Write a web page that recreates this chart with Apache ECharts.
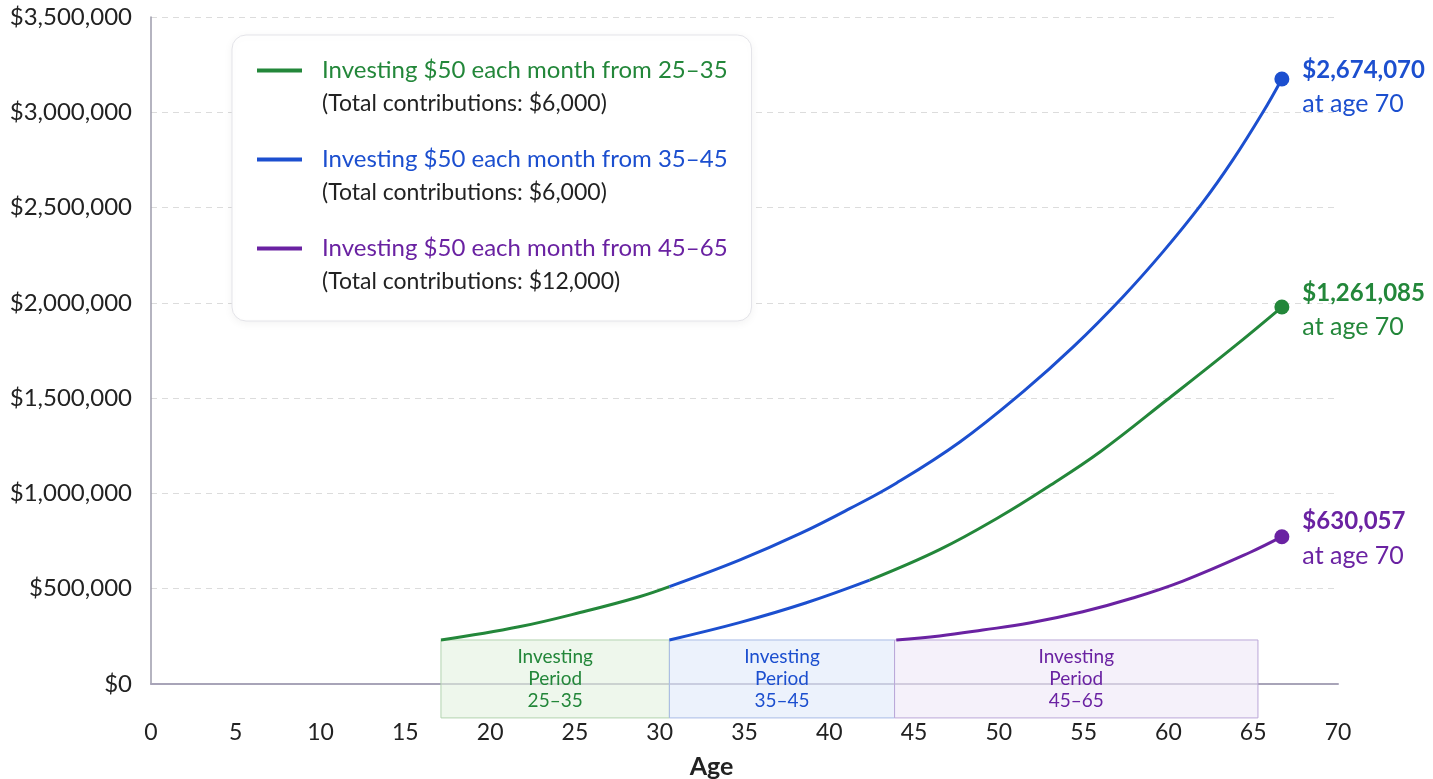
<!DOCTYPE html>
<html>
<head>
<meta charset="utf-8">
<script src="https://cdn.jsdelivr.net/npm/echarts@6/dist/echarts.min.js"></script>
<style>
  html, body { margin: 0; padding: 0; background: #fff; }
  #chart { width: 1433px; height: 779px; }
</style>
</head>
<body>
<div id="chart"></div>
<script>
const GREEN = '#23873a';
const BLUE = '#1c4fcf';
const PURPLE = '#6a22a2';
const FONT = 'Lato, "Noto Sans", sans-serif';

const seriesNames = [
  'Investing $50 each month from 25–35',
  'Investing $50 each month from 35–45',
  'Investing $50 each month from 45–65'
];
const contributionNotes = [
  '(Total contributions: $6,000)',
  '(Total contributions: $6,000)',
  '(Total contributions: $12,000)'
];
const endValueLabels = ['$1,261,085', '$2,674,070', '$630,057'];
const endAgeLabel = 'at age 70';

// upper curve: green until the switch age, blue after
const upperCurveAges = [17.1, 21.7, 25.66, 28.8, 30.57, 34.7, 38.3, 41.2, 43.97, 47.7, 51.47, 54.4, 57.31, 59.7, 61.96, 63.8, 65.57, 66.69];
const upperCurveValues = [231000, 300000, 383000, 458000, 511000, 650000, 790000, 920000, 1055000, 1270000, 1537000, 1770000, 2031000, 2270000, 2519000, 2750000, 3000000, 3175000];
const upperSwitchAge = 30.57;

// middle curve: blue until the switch age, green after
const middleCurveAges = [30.57, 34.7, 38.6, 42.38, 46.5, 50.1, 52.9, 56.0, 59.9, 63.8, 66.69];
const middleCurveValues = [231000, 322000, 425000, 545000, 705000, 880000, 1035000, 1220000, 1490000, 1765000, 1978000];
const middleSwitchAge = 42.38;

const purpleAges = [43.95, 46.5, 49.05, 51.8, 54.95, 57.9, 60.85, 64.8, 66.69];
const purpleValues = [231000, 252000, 283000, 320000, 379000, 451000, 540000, 690000, 773000];

const periodLabels = ['Investing\nPeriod\n25–35', 'Investing\nPeriod\n35–45', 'Investing\nPeriod\n45–65'];
const periodStart = [17.1, 30.57, 43.85];
const periodEnd = [30.57, 43.85, 65.28];
const periodTop = 231000;
const periodBottom = -178000;

const lineColors = [GREEN, BLUE, PURPLE];
const periodFill = ['rgba(226,242,224,0.6)', 'rgba(224,233,250,0.6)', 'rgba(238,231,247,0.6)'];
const periodStroke = ['#b3d3b0', '#a9bbe6', '#bba8d8'];
const endLabelOffsets = [[0, 3], [0, 8], [0, 2]];

const pts = (ages, vals, keep) => ages.map((a, i) => [a, vals[i]]).filter(p => keep(p[0]));
const gap = ['-', '-'];

const greenData = [
  ...pts(upperCurveAges, upperCurveValues, a => a <= upperSwitchAge),
  gap,
  ...pts(middleCurveAges, middleCurveValues, a => a >= middleSwitchAge)
];
const blueData = [
  ...pts(middleCurveAges, middleCurveValues, a => a <= middleSwitchAge),
  gap,
  ...pts(upperCurveAges, upperCurveValues, a => a >= upperSwitchAge)
];
const purpleData = pts(purpleAges, purpleValues, () => true);

const endPoints = [
  [middleCurveAges[middleCurveAges.length - 1], middleCurveValues[middleCurveValues.length - 1]],
  [upperCurveAges[upperCurveAges.length - 1], upperCurveValues[upperCurveValues.length - 1]],
  [purpleAges[purpleAges.length - 1], purpleValues[purpleValues.length - 1]]
];

const chart = echarts.init(document.getElementById('chart'));
const richKeys = ['g', 'b', 'p'];

const lineSeries = (name, data, color) => ({
  name,
  type: 'line',
  data,
  smooth: 0.4,
  symbol: 'none',
  connectNulls: false,
  color,
  lineStyle: { width: 3, color },
  z: 4
});

chart.setOption({
  animation: false,
  textStyle: { fontFamily: FONT },
  grid: { left: 151, right: 95, top: 17, bottom: 95, containLabel: false, outerBoundsMode: 'none' },
  legend: {
    orient: 'vertical',
    left: 232,
    top: 35,
    padding: [19, 24, 23, 25],
    itemWidth: 60,
    itemHeight: 66,
    itemGap: 23,
    icon: 'path://M0,14.5H45V18.5H0Z M0,0h0.01v0.01h-0.01Z M60,66h0.01v0.01h-0.01Z',
    itemStyle: { borderWidth: 0 },
    backgroundColor: '#fff',
    borderColor: '#e3e3e8',
    borderWidth: 1,
    borderRadius: 14,
    shadowBlur: 10,
    shadowColor: 'rgba(0,0,0,0.06)',
    shadowOffsetY: 2,
    selectedMode: false,
    data: seriesNames,
    formatter: name => {
      const i = seriesNames.indexOf(name);
      return `{${richKeys[i]}|${name}}\n{n|${contributionNotes[i]}}`;
    },
    textStyle: {
      fontFamily: FONT,
      rich: {
        g: { color: GREEN, fontSize: 24, lineHeight: 33, fontFamily: FONT },
        b: { color: BLUE, fontSize: 24, lineHeight: 33, fontFamily: FONT },
        p: { color: PURPLE, fontSize: 24, lineHeight: 33, fontFamily: FONT },
        n: { color: '#222', fontSize: 23, lineHeight: 33, fontFamily: FONT }
      }
    }
  },
  xAxis: {
    type: 'value',
    min: 0,
    max: 70,
    interval: 5,
    name: 'Age',
    nameLocation: 'middle',
    nameGap: 70,
    nameTextStyle: { fontSize: 25, fontWeight: 'bold', color: '#222', fontFamily: FONT, padding: [0, 66, 0, 0] },
    axisLine: { lineStyle: { color: '#a8a4b8', width: 2 } },
    axisTick: { show: false },
    splitLine: { show: false },
    axisLabel: { fontSize: 23, color: '#222', margin: 37, fontFamily: FONT }
  },
  yAxis: {
    type: 'value',
    min: 0,
    max: 3500000,
    interval: 500000,
    axisLine: { show: true, lineStyle: { color: '#9d9bab', width: 1.5 } },
    axisTick: { show: false },
    axisLabel: {
      fontSize: 24,
      color: '#222',
      margin: 19,
      fontFamily: FONT,
      formatter: v => '$' + v.toLocaleString('en-US')
    },
    splitLine: { lineStyle: { type: [6, 5], color: '#dcdcdc', width: 1 } }
  },
  series: [
    {
      type: 'custom',
      silent: true,
      clip: false,
      z: 3,
      encode: { x: [0, 1], y: [2, 3] },
      data: periodStart.map((s, i) => [s, periodEnd[i], periodTop, periodBottom, i]),
      renderItem: (params, api) => {
        const i = api.value(4);
        const p0 = api.coord([api.value(0), api.value(2)]);
        const p1 = api.coord([api.value(1), api.value(3)]);
        return {
          type: 'group',
          children: [
            {
              type: 'rect',
              shape: { x: p0[0], y: p0[1], width: p1[0] - p0[0], height: p1[1] - p0[1] },
              style: { fill: periodFill[i], stroke: periodStroke[i], lineWidth: 1 }
            },
            {
              type: 'text',
              style: {
                text: periodLabels[i],
                x: (p0[0] + p1[0]) / 2,
                y: (p0[1] + p1[1]) / 2,
                align: 'center',
                verticalAlign: 'middle',
                fill: lineColors[i],
                fontSize: 19,
                fontFamily: FONT,
                lineHeight: 22
              }
            }
          ]
        };
      }
    },
    lineSeries(seriesNames[0], greenData, GREEN),
    lineSeries(seriesNames[1], blueData, BLUE),
    lineSeries(seriesNames[2], purpleData, PURPLE),
    {
      name: 'endpoints',
      type: 'scatter',
      symbolSize: 15,
      z: 5,
      itemStyle: { opacity: 1 },
      data: endPoints.map((p, i) => ({
        value: p,
        itemStyle: { color: lineColors[i], opacity: 1 },
        label: { color: lineColors[i], offset: endLabelOffsets[i] }
      })),
      label: {
        show: true,
        position: 'right',
        distance: 13,
        fontFamily: FONT,
        formatter: params => `{v|${endValueLabels[params.dataIndex]}}\n{a|${endAgeLabel}}`,
        rich: {
          v: { fontSize: 24, fontWeight: 'bold', lineHeight: 34, fontFamily: FONT },
          a: { fontSize: 25, lineHeight: 34, fontFamily: FONT }
        }
      }
    }
  ]
});
</script>
</body>
</html>
